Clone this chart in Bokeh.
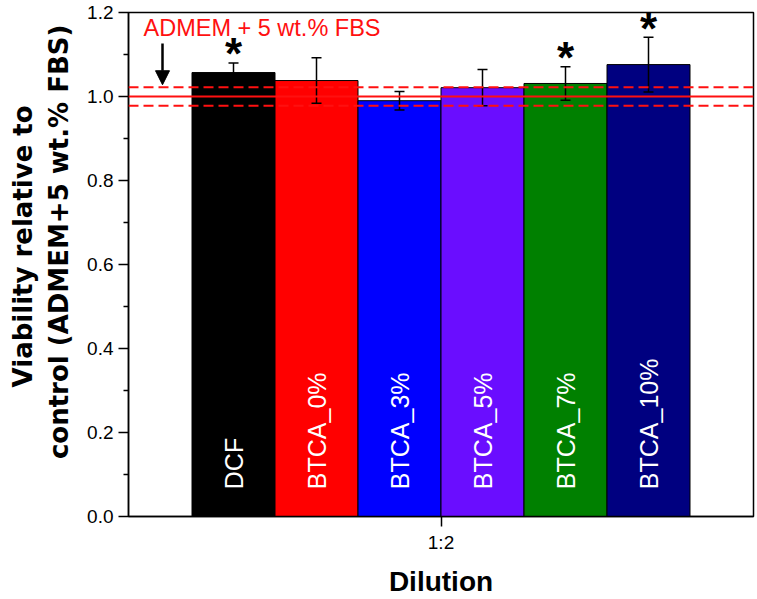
import math
from bokeh.plotting import figure
from bokeh.models import (Range1d, FixedTicker, Whisker, TeeHead, ColumnDataSource,
                          Arrow, NormalHead, Label, Span, PrintfTickFormatter)
from bokeh.core.properties import value
from bokeh.embed import file_html
from bokeh.resources import INLINE

# ---------------- data ----------------
samples = ["DCF", "BTCA_0%", "BTCA_3%", "BTCA_5%", "BTCA_7%", "BTCA_10%"]
viability = [1.057, 1.038, 0.990, 1.021, 1.031, 1.076]
errors = [0.023, 0.054, 0.022, 0.043, 0.040, 0.065]
significant = [True, False, False, False, True, True]
bar_colors = ["#000000", "#ff0000", "#0000ff", "#6a0dff", "#008000", "#000080"]
dilution_ticks = [1]
dilution_labels = ["1:2"]
control_mean = 1.0
control_sd = 0.022
control_label = "ADMEM + 5 wt.% FBS"
x_title = "Dilution"
y_title_lines = ["Viability relative to", "control (ADMEM+5 wt.% FBS)"]
y_ticks = [0.0, 0.2, 0.4, 0.6, 0.8, 1.0, 1.2]
y_minor = [0.1, 0.3, 0.5, 0.7, 0.9, 1.1]

# ---------------- layout constants ----------------
FONT = "Liberation Sans"
bar_w = 0.1328
x_lo, x_hi = 0.5, 1.5
n = len(samples)
xs = [dilution_ticks[0] + (i - (n - 1) / 2) * bar_w for i in range(n)]

src = ColumnDataSource(dict(
    x=xs, top=viability, color=bar_colors, label=samples,
    upper=[v + e for v, e in zip(viability, errors)],
    lower=[v - e for v, e in zip(viability, errors)],
))

p = figure(width=757, height=599, x_range=Range1d(x_lo, x_hi), y_range=Range1d(0, 1.2),
           output_backend="svg", toolbar_location=None, title=None,
           min_border_left=128, min_border_top=12, min_border_right=4, min_border_bottom=82)
p.grid.visible = False
p.outline_line_color = "black"
p.outline_line_width = 1.5
p.background_fill_color = "white"

# bars
p.vbar(x="x", top="top", width=bar_w, fill_color="color", line_color="black",
       line_width=1, source=src)

# labels inside bars
p.text(x="x", y=0.065, text="label", source=src, angle=math.pi / 2,
       text_align="left", text_baseline="middle", text_color="white",
       text_font=value(FONT), text_font_size="25px")

# error bars
wh = Whisker(base="x", upper="upper", lower="lower", source=src,
             line_color="black", line_width=1.5,
             upper_head=TeeHead(size=10, line_color="black", line_width=1.5),
             lower_head=TeeHead(size=10, line_color="black", line_width=1.5))
wh.level = "annotation"
p.add_layout(wh)

# control band
p.add_layout(Span(location=control_mean, dimension="width", line_color="#ff1010", line_width=2))
for loc in (control_mean + control_sd, control_mean - control_sd):
    p.add_layout(Span(location=loc, dimension="width", line_color="#ff1010",
                      line_width=2, line_dash="10 5"))

# significance asterisks
sig_x = [x for x, s in zip(xs, significant) if s]
sig_y = [v + e for v, e, s in zip(viability, errors, significant) if s]
p.text(x=sig_x, y=sig_y, text=["*"] * len(sig_x), text_align="center",
       text_baseline="alphabetic", y_offset=-9, text_color="black",
       text_font=value(FONT), text_font_style="bold", text_font_size="44px")

# control annotation
p.add_layout(Label(x=x_lo + 0.024, y=1.164, text=control_label, text_color="#ff1010",
                   text_font=FONT, text_font_size="23.5px", text_baseline="middle"))
p.add_layout(Arrow(end=NormalHead(size=14, fill_color="black", line_color="black"),
                   x_start=x_lo + 0.0544, y_start=1.126,
                   x_end=x_lo + 0.0544, y_end=control_mean + control_sd + 0.006,
                   line_color="black", line_width=2.5))

# axes
p.yaxis.ticker = FixedTicker(ticks=y_ticks, minor_ticks=y_minor)
p.yaxis.formatter = PrintfTickFormatter(format="%.1f")
p.xaxis.ticker = FixedTicker(ticks=dilution_ticks)
p.xaxis.major_label_overrides = {t: l for t, l in zip(dilution_ticks, dilution_labels)}
for ax in (p.xaxis[0], p.yaxis[0]):
    ax.axis_line_width = 1.5
    ax.major_tick_line_width = 1.5
    ax.minor_tick_line_width = 1.5
    ax.major_tick_in = 0
    ax.minor_tick_in = 0
    ax.major_label_text_font = FONT
    ax.major_label_text_font_size = "19px"
    ax.major_label_text_color = "black"
    ax.axis_label_text_font_style = "bold"
    ax.axis_label_text_color = "black"
p.yaxis.major_tick_out = 10
p.yaxis.minor_tick_out = 5
p.yaxis.major_label_standoff = 5
p.xaxis.major_tick_out = 10
p.xaxis.minor_tick_line_color = None
p.xaxis.major_label_standoff = 5

p.xaxis.axis_label = x_title
p.xaxis.axis_label_text_font = FONT
p.xaxis.axis_label_text_font_size = "28px"
p.xaxis.axis_label_standoff = 10

pads = ["\u00a0" * 4, "\u00a0" * 5]
p.yaxis.axis_label = "\n".join(pd + line for pd, line in zip(pads, y_title_lines))
p.yaxis.axis_label_text_font = "DejaVu Sans"
p.yaxis.axis_label_text_font_size = "26px"
p.yaxis.axis_label_standoff = 10

open("out.html", "w").write(file_html(p, INLINE))
